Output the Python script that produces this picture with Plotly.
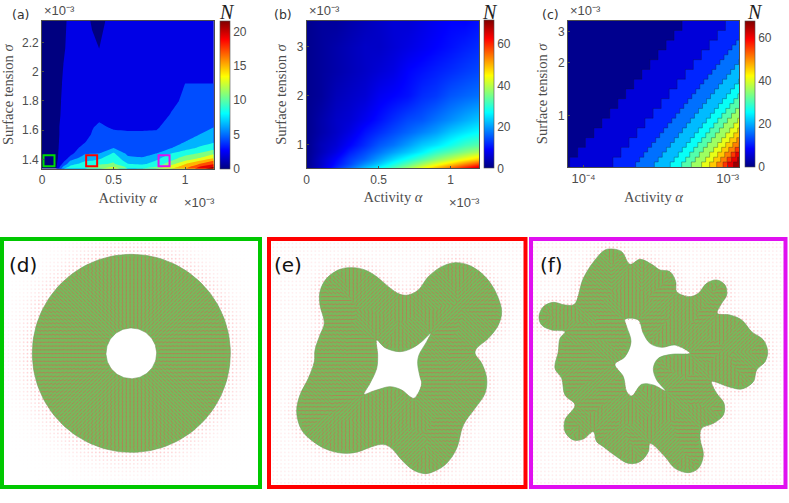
import numpy as np
import plotly.graph_objects as go

W, H = 789, 503

# MATLAB jet
JET = [[0, 'rgb(0,0,128)'], [0.125, 'rgb(0,0,255)'], [0.375, 'rgb(0,255,255)'],
       [0.625, 'rgb(255,255,0)'], [0.875, 'rgb(255,0,0)'], [1, 'rgb(128,0,0)']]
GREY = '#4d4d4d'
SANS = 'Liberation Sans'
SERIF = 'Liberation Serif'

# panel (a), alpha and sigma in units of 1e-3
a_alpha = [0, 0.1, 0.15, 0.2, 0.3, 0.35, 0.4, 0.5, 0.6, 0.7, 0.8, 0.9, 1.0, 1.1, 1.2]
a_sigma = [1.336, 1.35, 1.37, 1.39, 1.41, 1.44, 1.48, 1.52, 1.57, 1.62, 1.7, 1.8, 1.92, 2.0, 2.16, 2.35]
# one list per alpha, bottom to top
a_N_columns = [
    [0.8, 0.8, 0.8, 0.8, 0.8, 0.8, 0.8, 0.8, 0.8, 0.8, 0.8, 0.8, 0.8, 0.8, 0.8, 0.8],
    [1.9, 1.8, 1.7, 1.7, 1.7, 1.7, 1.7, 1.7, 1.7, 1.7, 1.6, 1.6, 1.6, 1.5, 1.5, 1.4],
    [8, 6.3, 4.5, 3.5, 3, 2.8, 2.6, 2.5, 2.4, 2.4, 2.3, 2.2, 2.1, 2.05, 1.9, 1.85],
    [9.5, 8.6, 7.2, 6.2, 4.6, 3.5, 3.2, 3, 2.9, 2.8, 2.7, 2.6, 2.5, 2.4, 2.3, 2.2],
    [10, 9.2, 8.7, 7.9, 7.2, 5.8, 4.6, 3.9, 3.5, 3.2, 3, 2.9, 2.8, 2.7, 2.5, 2.3],
    [11, 10.3, 9, 8, 7.2, 5.9, 5.1, 4.7, 4.1, 3.9, 3.5, 3, 2.7, 2.5, 2.2, 1.9],
    [12, 11, 9.6, 8.4, 7.6, 6, 5.5, 5, 4.6, 4.3, 3.6, 3, 2.6, 2.4, 2, 1.7],
    [13.8, 12, 10.2, 9.7, 9.3, 8.3, 5.9, 5.2, 4.4, 3.8, 3.3, 3, 2.8, 2.7, 2.5, 2.4],
    [10, 9.4, 8, 7.2, 6.4, 5.5, 5, 4.7, 4.2, 3.8, 3.3, 3, 2.8, 2.7, 2.6, 2.5],
    [10.2, 8.9, 7.6, 6.9, 6.1, 5.4, 5, 4.7, 4.2, 3.8, 3.3, 3, 2.8, 2.7, 2.6, 2.5],
    [12.2, 10, 8.7, 8.1, 7.5, 6, 5.4, 4.9, 4.3, 3.8, 3.3, 3, 2.8, 2.7, 2.6, 2.5],
    [14, 12.8, 11, 9.9, 9, 8, 5.8, 5.4, 5, 4.7, 4.1, 3.6, 3.2, 3, 2.8, 2.6],
    [16, 15, 13.8, 12, 10.9, 9.1, 7.2, 6, 5.5, 5, 4.6, 4.3, 4, 3.6, 3, 2.7],
    [19, 18, 15.9, 14, 11.9, 10.2, 8.2, 7.2, 6, 5.5, 5, 4.5, 4, 3.4, 3, 2.8],
    [21.5, 19.8, 17.5, 16, 13.7, 11.6, 9.2, 7.8, 6.5, 6, 5, 4.6, 4, 3.5, 3, 2.8],
]
a_marker_alpha = [0.049, 0.347, 0.853]
a_marker_sigma = [1.39, 1.39, 1.39]
a_marker_color = ['#00dc00', '#ff0000', '#e010f0']
a_cmax = 21.6

# panel (b)
b_alpha = [0, 0.1, 0.2, 0.3, 0.4, 0.5, 0.6, 0.7, 0.8, 0.9, 1.0, 1.1, 1.2]
b_sigma = [0.51, 0.6, 0.7, 0.85, 1, 1.25, 1.5, 2, 2.5, 3, 3.53]
b_N = [
    [1, 6, 12, 17, 23, 28, 33, 39, 45, 51, 57, 63, 69],
    [1, 5, 10, 14, 19, 23, 28, 33, 38, 43, 48, 53, 58],
    [1, 5, 9, 13, 16, 20, 24, 28, 32, 36, 40, 44, 48],
    [1, 4, 7, 11, 14, 17, 20, 23, 26, 30, 33, 36, 39],
    [1, 4, 6, 9, 12, 15, 17, 20, 23, 25, 28, 31, 33],
    [1, 3, 5, 7, 10, 12, 14, 16, 18, 20, 23, 25, 27],
    [1, 3, 5, 6, 8, 10, 12, 14, 15, 17, 19, 21, 23],
    [1, 2, 4, 5, 6, 8, 9, 10, 12, 13, 15, 16, 17],
    [1, 2, 3, 4, 5, 6, 7, 9, 10, 11, 12, 13, 14],
    [1, 2, 3, 4, 5, 5, 6, 7, 8, 9, 10, 11, 12],
    [1, 2, 2, 3, 4, 5, 6, 6, 7, 8, 9, 9, 10],
]
b_cmax = 71.4

# panel (c): sigma rows and, per contour level, the alpha where that level sits in each row
c_rows_coarse = [0.5, 0.58, 0.66, 0.749, 0.851, 0.967, 1.099, 1.249, 1.419, 1.612, 1.832,
                 2.082, 2.365, 2.687, 3.054, 3.6]
c_rows_fine = [0.5, 0.545, 0.58, 0.62, 0.66, 0.703, 0.749, 0.798, 0.851, 0.907, 0.967, 1.031, 1.099, 1.171, 1.249,
               1.331, 1.419, 1.513, 1.612, 1.718, 1.832, 1.953, 2.082, 2.219, 2.365, 2.521, 2.687, 2.864, 3.054,
               3.255, 3.6]
c_levels = [0, 5, 10, 15, 20, 25, 30, 35, 40, 45, 50, 55, 60, 65]
c_level_alpha = [
    [0.07, 0.07, 0.07, 0.07, 0.07, 0.07, 0.07, 0.07, 0.07, 0.07, 0.07, 0.07, 0.07, 0.07, 0.07],
    [0.08, 0.091, 0.103, 0.118, 0.134, 0.152, 0.173, 0.196, 0.223, 0.254, 0.289, 0.329, 0.374, 0.425, 0.483],
    [0.16, 0.182, 0.207, 0.235, 0.267, 0.304, 0.346, 0.393, 0.446, 0.509, 0.578, 0.658, 0.747, 0.85, 0.966],
    [0.23, 0.245, 0.262, 0.279, 0.297, 0.317, 0.338, 0.36, 0.384, 0.41, 0.437, 0.466, 0.497, 0.53, 0.565, 0.602,
     0.642, 0.684, 0.731, 0.78, 0.83, 0.886, 0.945, 1.007, 1.074, 1.145, 1.3],
    [0.31, 0.33, 0.352, 0.376, 0.401, 0.427, 0.456, 0.486, 0.518, 0.552, 0.589, 0.628, 0.67, 0.714, 0.761, 0.812,
     0.865, 0.922, 0.986, 1.051, 1.119, 1.194, 1.3],
    [0.4, 0.426, 0.455, 0.485, 0.517, 0.551, 0.588, 0.627, 0.668, 0.712, 0.76, 0.81, 0.864, 0.921, 0.982, 1.047,
     1.116, 1.19, 1.3],
    [0.48, 0.512, 0.546, 0.582, 0.621, 0.661, 0.706, 0.752, 0.802, 0.855, 0.912, 0.972, 1.037, 1.105, 1.179, 1.3],
    [0.56, 0.597, 0.637, 0.679, 0.724, 0.772, 0.823, 0.878, 0.936, 0.997, 1.064, 1.134, 1.21, 1.3],
    [0.66, 0.704, 0.75, 0.8, 0.853, 0.909, 0.97, 1.034, 1.103, 1.175, 1.254, 1.3],
    [0.75, 0.8, 0.853, 0.909, 0.97, 1.034, 1.103, 1.175, 1.253, 1.3],
    [0.84, 0.895, 0.955, 1.018, 1.086, 1.158, 1.235, 1.3],
    [0.93, 0.991, 1.057, 1.127, 1.202, 1.3],
    [1.0, 1.066, 1.137, 1.212, 1.3],
    [1.1, 1.173, 1.25, 1.3],
]
c_alpha_right = 1.3
c_cmax = 68

# panels (d,e,f): droplet outlines, in 3x crop pixels
d_center = [394, 355]
d_outer_radius = 297
d_inner_radius = 76

e_outer_x = [265, 300, 335, 370, 405, 430, 460, 490, 530, 570, 610, 650, 680, 700, 710, 700, 670, 635, 630, 650, 665,
             660, 630, 595, 575, 545, 510, 480, 445, 410, 380, 355, 320, 280, 240, 190, 145, 110, 95, 105, 130, 148,
             150, 165, 178, 165, 165, 185, 225]
e_outer_y = [98, 105, 125, 155, 178, 180, 165, 125, 95, 83, 90, 115, 150, 190, 230, 270, 310, 340, 355, 385, 430,
             475, 520, 570, 640, 685, 708, 716, 705, 675, 640, 628, 635, 650, 655, 645, 620, 585, 530, 480, 430, 380,
             345, 300, 265, 210, 170, 130, 103]
e_hole_x = [335, 360, 405, 440, 470, 497, 485, 462, 458, 465, 470, 462, 447, 435, 410, 375, 345, 320, 297, 315, 335, 338]
e_hole_y = [315, 338, 350, 340, 320, 295, 320, 360, 385, 425, 445, 470, 490, 485, 465, 455, 462, 470, 478, 445, 400, 360]

f_outer_x = [262, 290, 315, 345, 380, 405, 435, 452, 455, 495, 520, 545, 575, 600, 605, 590, 577, 615, 650, 680, 715,
             728, 720, 695, 685, 650, 610, 560, 575, 597, 595, 565, 530, 525, 535, 520, 490, 450, 420, 375, 370, 345,
             310, 275, 235, 215, 205, 175, 145, 120, 120, 150, 120, 110, 90, 100, 105, 120, 80, 50, 42, 55, 85, 120,
             148, 175, 210, 240]
f_outer_y = [42, 50, 88, 73, 88, 105, 110, 140, 170, 185, 175, 145, 135, 150, 180, 205, 235, 240, 255, 290, 315,
             350, 380, 405, 440, 462, 455, 440, 475, 505, 540, 565, 580, 610, 660, 700, 713, 700, 665, 625, 650, 680,
             685, 665, 635, 620, 590, 612, 615, 590, 555, 510, 480, 430, 400, 350, 310, 290, 285, 270, 245, 215, 202,
             210, 208, 130, 75, 45]
f_hole_x = [300, 340, 355, 375, 410, 450, 495, 440, 400, 385, 395, 422, 385, 350, 320, 305, 295, 270, 300, 318, 305]
f_hole_y = [253, 255, 295, 325, 337, 330, 355, 358, 370, 400, 435, 468, 450, 448, 483, 470, 425, 388, 365, 320, 275]


def dom_x(left, right):
    return [left / W, right / W]


def dom_y(top, bottom):
    return [1 - bottom / H, 1 - top / H]


def jet_color(t):
    stops = [s[0] for s in JET]
    chans = [[0, 0, 0, 255, 255, 128], [0, 0, 255, 255, 0, 0], [128, 255, 255, 0, 0, 0]]
    return 'rgb(%d,%d,%d)' % tuple(np.interp(t, stops, c) for c in chans)


def inside(px, py, xs, ys):
    # ray casting on closed polygon
    res = np.zeros(px.shape, dtype=bool)
    n = len(xs)
    for i in range(n):
        x0, y0, x1, y1 = xs[i], ys[i], xs[(i + 1) % n], ys[(i + 1) % n]
        if y0 == y1:
            continue
        hit = ((y0 > py) != (y1 > py)) & (px < (x1 - x0) * (py - y0) / (y1 - y0) + x0)
        res ^= hit
    return res


def edge_points(loops):
    out = []
    for xs, ys in loops:
        n = len(xs)
        for i in range(n):
            x0, y0, x1, y1 = xs[i], ys[i], xs[(i + 1) % n], ys[(i + 1) % n]
            k = max(int(np.hypot(x1 - x0, y1 - y0) / 4), 1)
            for t in range(k):
                out.append((x0 + (x1 - x0) * t / k, y0 + (y1 - y0) * t / k))
    return np.array(out)


def droplet_texture(outer, hole, decay, floor):
    # director stripes follow the direction to the nearest edge, pink dots fade away from it
    step = 11.4
    gx, gy = np.meshgrid(np.arange(14, 778, step), np.arange(14, 752, step))
    px, py = gx.ravel(), gy.ravel()
    pts = edge_points([outer, hole])
    dx = pts[:, 0][:, None] - px[None, :]
    dy = pts[:, 1][:, None] - py[None, :]
    dist = np.hypot(dx, dy)
    idx = dist.argmin(axis=0)
    near = dist.min(axis=0)
    cols = np.arange(len(px))
    nx = dx[idx, cols] / np.maximum(near, 1e-6)
    ny = dy[idx, cols] / np.maximum(near, 1e-6)
    solid = inside(px, py, *outer) & ~inside(px, py, *hole)

    seg_x, seg_y = [], []
    half = step * 0.55
    for x, y, ux, uy, d in zip(px[solid], py[solid], nx[solid], ny[solid], near[solid]):
        h = min(half, d)
        seg_x += [x - ux * h, x + ux * h, None]
        seg_y += [y - uy * h, y + uy * h, None]

    far = ~solid
    dot_op = np.maximum(0.55 * np.exp(-near[far] / decay), floor)
    return seg_x, seg_y, px[far], py[far], dot_op


def add_droplet(fig, outer, hole, axis, shape, decay, floor):
    xa, ya = 'x' + axis, 'y' + axis
    seg_x, seg_y, dot_x, dot_y, dot_op = droplet_texture(outer, hole, decay, floor)
    fig.add_trace(go.Scatter(x=dot_x, y=dot_y, mode='markers', xaxis=xa, yaxis=ya, showlegend=False,
                             hoverinfo='skip', marker=dict(size=1.8, color='#ff7f86', opacity=dot_op)))
    fig.add_trace(go.Scatter(x=list(outer[0]) + [outer[0][0]], y=list(outer[1]) + [outer[1][0]], mode='lines',
                             fill='toself', fillcolor='#78b85c', line=dict(color='#6f9c5a', width=0.6, shape=shape),
                             xaxis=xa, yaxis=ya, showlegend=False, hoverinfo='skip'))
    fig.add_trace(go.Scatter(x=list(hole[0]) + [hole[0][0]], y=list(hole[1]) + [hole[1][0]], mode='lines',
                             fill='toself', fillcolor='white', line=dict(color='#6f9c5a', width=0.6, shape=shape),
                             xaxis=xa, yaxis=ya, showlegend=False, hoverinfo='skip'))
    fig.add_trace(go.Scatter(x=seg_x, y=seg_y, mode='lines', xaxis=xa, yaxis=ya, showlegend=False, hoverinfo='skip',
                             line=dict(color='rgba(225,85,75,0.55)', width=0.9)))


def cbar(left, top, bottom, tickvals):
    return dict(x=left / W, xanchor='left', xpad=0, y=1 - bottom / H, yanchor='bottom', ypad=0,
                len=(bottom - top) / H, lenmode='fraction', thickness=10, thicknessmode='pixels',
                outlinecolor=GREY, outlinewidth=0.6, tickvals=tickvals, ticks='',
                tickfont=dict(family=SANS, size=12, color=GREY))


fig = go.Figure()

# (a)
fig.add_trace(go.Contour(x=a_alpha, y=a_sigma, z=np.array(a_N_columns).T.tolist(), colorscale=JET, zmin=0, zmax=a_cmax,
                         autocontour=False, contours=dict(start=2, end=20, size=2, coloring='fill', showlines=False),
                         line=dict(width=0, smoothing=0), showscale=False, xaxis='x', yaxis='y'))
fig.add_trace(go.Scatter(x=[None, None], y=[None, None], mode='markers', xaxis='x', yaxis='y', showlegend=False,
                         marker=dict(color=[0, a_cmax], cmin=0, cmax=a_cmax, colorscale=JET, showscale=True,
                                     colorbar=cbar(219.5, 20.7, 168.7, [0, 5, 10, 15, 20]))))
fig.add_trace(go.Scatter(x=a_marker_alpha, y=a_marker_sigma, mode='markers', xaxis='x', yaxis='y', showlegend=False,
                         marker=dict(symbol='square-open', size=11, color=a_marker_color, line=dict(width=2))))

# (b)
fig.add_trace(go.Heatmap(x=b_alpha, y=b_sigma, z=b_N, colorscale=JET, zmin=0, zmax=b_cmax, zsmooth='best',
                         xaxis='x2', yaxis='y2', colorbar=cbar(484.3, 20.7, 168.3, [0, 20, 40, 60])))

# (c)
fig.add_trace(go.Scatter(x=[None, None], y=[None, None], mode='markers', xaxis='x3', yaxis='y3', showlegend=False,
                         marker=dict(color=[0, c_cmax], cmin=0, cmax=c_cmax, colorscale=JET, showscale=True,
                                     colorbar=cbar(745, 20.7, 167, [0, 20, 40, 60]))))
for level, alphas in zip(c_levels, c_level_alpha):
    rows = c_rows_coarse if level < 15 else c_rows_fine
    px_, py_ = [], []
    for j, a in enumerate(alphas):
        px_ += [a, a]
        py_ += [rows[j], rows[j + 1]]
    px_ += [c_alpha_right, c_alpha_right, alphas[0]]
    py_ += [rows[len(alphas)], rows[0], rows[0]]
    fig.add_trace(go.Scatter(x=px_, y=py_, mode='lines', fill='toself', fillcolor=jet_color((level + 1) / c_cmax),
                             line=dict(color='rgba(20,20,40,0.6)', width=0.5), xaxis='x3', yaxis='y3',
                             showlegend=False, hoverinfo='skip'))

# (d), (e), (f)
angles = np.deg2rad(np.arange(0, 360, 3))
d_outer = (d_center[0] + d_outer_radius * np.cos(angles), d_center[1] + d_outer_radius * np.sin(angles))
d_hole = (d_center[0] + d_inner_radius * np.cos(angles), d_center[1] + d_inner_radius * np.sin(angles))
add_droplet(fig, d_outer, d_hole, '4', 'linear', 38, 0.0)
add_droplet(fig, (e_outer_x, e_outer_y), (e_hole_x, e_hole_y), '5', 'spline', 30, 0.12)
add_droplet(fig, (f_outer_x, f_outer_y), (f_hole_x, f_hole_y), '6', 'spline', 30, 0.14)


def heat_axes(left, right, top, bottom):
    base = dict(showline=True, linecolor=GREY, linewidth=0.7, mirror=True, ticks='inside', ticklen=2, tickcolor=GREY,
                tickwidth=0.6, showgrid=False, zeroline=False, automargin=False,
                tickfont=dict(family=SANS, size=12, color=GREY))
    return dict(domain=dom_x(left, right), **base), dict(domain=dom_y(top, bottom), **base)


def title(text, standoff):
    return dict(text=text, font=dict(family=SERIF, size=14.5, color=GREY), standoff=standoff)


xa, ya = heat_axes(42, 213.7, 20.7, 168.7)
xa.update(range=[0, 1.2], tickvals=[0, 0.5, 1], ticktext=['0', '0.5', '1'], title=title('Activity <i>α</i>', 6))
ya.update(range=[1.336, 2.35], tickvals=[1.4, 1.6, 1.8, 2, 2.2], ticktext=['1.4', '1.6', '1.8', '2', '2.2'],
          title=title('Surface tension <i>σ</i>', 6))
xb, yb = heat_axes(306.7, 479.3, 20.7, 168.3)
xb.update(range=[0, 1.2], tickvals=[0, 0.5, 1], ticktext=['0', '0.5', '1'], title=title('Activity <i>α</i>', 6))
yb.update(range=[0.51, 3.53], tickvals=[1, 2, 3], ticktext=['1', '2', '3'], title=title('Surface tension <i>σ</i>', 6))
xc, yc = heat_axes(568, 739, 20.7, 167)
xc.update(type='log', range=[np.log10(0.078), np.log10(1.2)], tickvals=[0.1, 1], ticktext=['10⁻⁴', '10⁻³'],
          tickfont=dict(family=SANS, size=13, color=GREY), title=title('Activity <i>α</i>', 6))
yc.update(type='log', range=[np.log10(0.51), np.log10(3.47)], tickvals=[1, 2, 3], ticktext=['1', '2', '3'],
          title=title('Surface tension <i>σ</i>', 6))

hidden = dict(showline=False, showticklabels=False, ticks='', showgrid=False, zeroline=False, automargin=False)
# bottom panels are addressed in crop pixels (3x), crops start at x=0, 265, 525 and y=235
xd = dict(domain=dom_x(0, 265), range=[0, 795], **hidden)
yd = dict(domain=dom_y(235, 503), range=[804, 0], **hidden)
xe = dict(domain=dom_x(265, 530), range=[0, 795], **hidden)
ye = dict(domain=dom_y(235, 503), range=[804, 0], **hidden)
xf = dict(domain=dom_x(525, 789), range=[0, 792], **hidden)
yf = dict(domain=dom_y(235, 503), range=[804, 0], **hidden)

notes = []


def note(x, y, text, size, family=SANS, color=GREY):
    notes.append(dict(x=x / W, y=1 - y / H, xref='paper', yref='paper', text=text, showarrow=False, xanchor='left',
                      yanchor='middle', xshift=-1, font=dict(family=family, size=size, color=color)))


for lx, lab, ex_top, ex_bot, nx_ in [(11, '(a)', 43, 183, 218), (273, '(b)', 308, 448, 481), (541, '(c)', 569, None, 746)]:
    note(lx, 14, lab, 12.5, 'DejaVu Sans', '#333333')
    note(ex_top, 11, '×10⁻³', 13)
    if ex_bot is not None:
        note(ex_bot, 202, '×10⁻³', 13)
    note(nx_, 12, '<i>N</i>', 20, SERIF, '#222222')
note(8, 265, '(d)', 20, 'DejaVu Sans', '#111111')
note(273, 265, '(e)', 20, 'DejaVu Sans', '#111111')
note(539, 265, '(f)', 20, 'DejaVu Sans', '#111111')

frames = [(2, 239, 260, 487, '#00c800'), (269, 239, 525.5, 487, '#ff0000'), (531, 239, 785.5, 487, '#e010f0')]
shapes = []
for x0, y0, x1, y1, col in frames:
    shapes.append(dict(type='rect', xref='paper', yref='paper', x0=x0 / W, x1=x1 / W, y0=1 - y0 / H, y1=1 - y1 / H,
                       line=dict(color=col, width=4), fillcolor='rgba(0,0,0,0)'))

fig.update_layout(width=W, height=H, autosize=False, margin=dict(l=0, r=0, t=0, b=0), paper_bgcolor='white',
                  plot_bgcolor='white', showlegend=False, annotations=notes, shapes=shapes,
                  xaxis=xa, yaxis=ya, xaxis2=dict(anchor='y2', **xb), yaxis2=dict(anchor='x2', **yb),
                  xaxis3=dict(anchor='y3', **xc), yaxis3=dict(anchor='x3', **yc),
                  xaxis4=dict(anchor='y4', **xd), yaxis4=dict(anchor='x4', **yd),
                  xaxis5=dict(anchor='y5', **xe), yaxis5=dict(anchor='x5', **ye),
                  xaxis6=dict(anchor='y6', **xf), yaxis6=dict(anchor='x6', **yf))

fig.write_html("out.html", config=dict(displayModeBar=False), post_script="document.body.style.margin='0'")
